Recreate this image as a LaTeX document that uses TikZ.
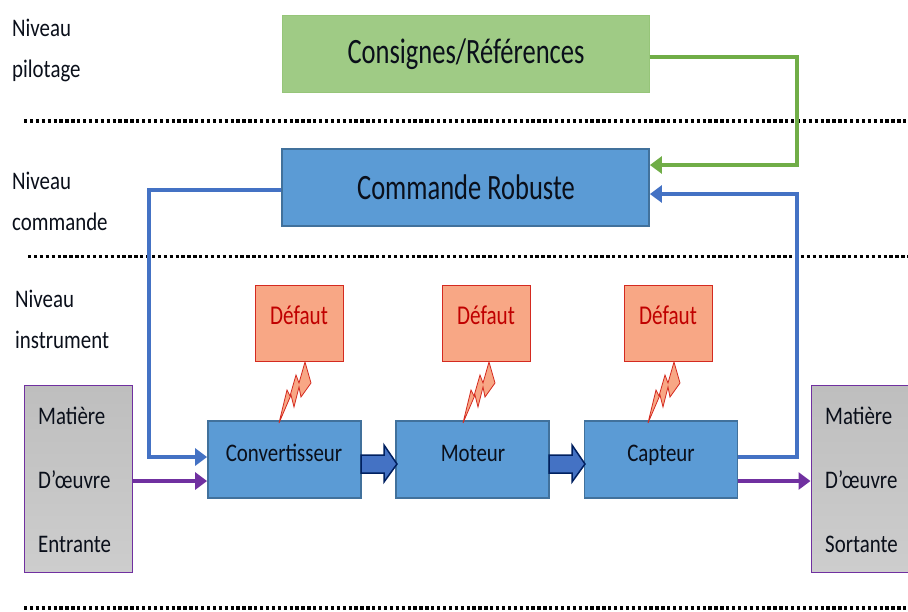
\documentclass[tikz,border=0pt]{standalone}
\usepackage{fontspec}
\setmainfont{Carlito}
\usetikzlibrary{arrows.meta,calc}
\definecolor{cblue}{HTML}{5B9BD5}
\definecolor{cblueb}{HTML}{41719C}
\definecolor{cgreen}{HTML}{9FCB85}
\definecolor{cgreenb}{HTML}{70AD47}
\definecolor{cred}{HTML}{F8A785}
\definecolor{credb}{HTML}{D42A20}
\definecolor{credt}{HTML}{C00000}
\definecolor{cpur}{HTML}{7030A0}
\definecolor{larrow}{HTML}{4472C4}
\definecolor{navyb}{HTML}{002060}
\definecolor{gtop}{HTML}{BEBEBE}
\definecolor{gbot}{HTML}{CDCDCD}
\definecolor{ink}{HTML}{0A0F1A}
\tikzset{
  box/.style={draw=cblueb,line width=1.8pt,fill=cblue,minimum width=153pt,minimum height=77pt,inner sep=0pt},
  topbox/.style={minimum width=367pt,minimum height=77pt,inner sep=0pt},
  faultbox/.style={draw=credb,line width=1pt,fill=cred,minimum width=88pt,minimum height=76pt,inner sep=0pt},
  stockbox/.style={draw=cpur,line width=1pt,top color=gtop,bottom color=gbot,minimum height=187pt,minimum width=108pt,inner sep=0pt},
  levellabel/.style={anchor=base west,inner sep=0pt,font=\fontsize{22}{22}\selectfont,xscale=.95,yscale=1.15,text=ink},
  stocktext/.style={anchor=base west,inner sep=0pt,font=\fontsize{22}{22}\selectfont,xscale=.95,yscale=1.15,text=ink},
  defaulttext/.style={anchor=base,inner sep=0pt,font=\fontsize{23}{23}\selectfont,text=credt,xscale=.92,yscale=1.18},
  blocktext/.style={anchor=base,inner sep=0pt,font=\fontsize{22}{22}\selectfont,xscale=.95,yscale=1.15,text=ink},
  titletext/.style={font=\fontsize{31}{31}\selectfont,xscale=.855,yscale=1.15,text=ink},
  sep/.style={line width=3.4pt,dash pattern=on 3.3pt off 2.6pt,black},
  link/.style={line width=4pt,line join=miter,-{Triangle[length=12pt,width=17pt]}},
  bolt/.style={draw=credb,line width=.8pt,fill=cred,line join=miter},
  blockarrow/.style={draw=navyb,line width=1.5pt,fill=larrow},
}
\begin{document}
\begin{tikzpicture}[x=1pt,y=-1pt]
\useasboundingbox (0,0) rectangle (908,611);
% separators
\coordinate (s1a) at (24,121); \coordinate (s1b) at (908,121);
\coordinate (s2a) at (28,256.5); \coordinate (s2b) at (908,256.5);
\coordinate (s3a) at (24,608); \coordinate (s3b) at (908,608);
\draw[sep] (s1a) -- (s1b);
\draw[sep] (s2a) -- (s2b);
\draw[sep] (s3a) -- (s3b);
% level labels
\node[levellabel] (l1a) at (12,36) {Niveau};
\node[levellabel] (l1b) at (12,77) {pilotage};
\node[levellabel] (l2a) at (12,189) {Niveau};
\node[levellabel] (l2b) at (12,230) {commande};
\node[levellabel] (l3a) at (15,307) {Niveau};
\node[levellabel] (l3b) at (15,348) {instrument};
% main boxes
\node[topbox,draw=cgreen!80!cgreenb,line width=1pt,fill=cgreen] (ref) at (465.5,54) {};
\node[titletext] (reft) at (466,54) {Consignes/Références};
\node[topbox,draw=cblueb,line width=1.8pt,fill=cblue] (cmd) at (465.5,187.5) {};
\node[titletext] (cmdt) at (466,187.5) {Commande Robuste};
\node[box] (conv) at (284.5,459.5) {};
\node[box] (mot) at (472.5,459.5) {};
\node[box] (cap) at (661,459.5) {};
\node[blocktext] (convt) at (284,461) {Convertisseur};
\node[blocktext] (mott) at (473,461) {Moteur};
\node[blocktext] (capt) at (661,461) {Capteur};
% faults
\foreach \n/\x/\bx in {a/299/0,b/486/184,c/668/369}{
  \draw[bolt,shift={(\bx,0)}] (305,362) -- (311,383) -- (301,397) -- (299,387) -- (294,407) -- (291,395) -- (279,423) -- (287,390) -- (290,396) -- (296,375) -- (299,383) -- cycle;
  \node[faultbox] (f\n) at (\x,323) {};
  \node[defaulttext] (ft\n) at (\x,324) {Défaut};
}
% stock boxes
\node[stockbox] (in) at (78,478.5) {};
\node[stockbox] (out) at (865,478.5) {};
\foreach \x/\nm/\last in {38/i/Entrante,825/o/Sortante}{
  \node[stocktext] (\nm1) at (\x,424) {Matière};
  \node[stocktext] (\nm2) at (\x,488) {D’œuvre};
  \node[stocktext] (\nm3) at (\x,552) {\last};
}
% block arrows between boxes
\foreach \x in {361,549}{
  \draw[blockarrow] (\x,455) -- ++(23,0) -- ++(0,-10) -- ++(13,19) -- ++(-13,18) -- ++(0,-9) -- ++(-23,0) -- cycle;
}
% connectors
\coordinate (g1) at (797,57);
\coordinate (g2) at (797,165);
\draw[link,cgreenb] (ref.east |- g1) -- (g1) -- (g2) -- (cmd.east |- g2);
\coordinate (b1) at (797,457);
\coordinate (b2) at (797,194);
\draw[link,larrow] (cap.east |- b1) -- (b1) -- (b2) -- (cmd.east |- b2);
\coordinate (c1) at (149,190);
\coordinate (c2) at (149,457);
\draw[link,larrow] (cmd.west |- c1) -- (c1) -- (c2) -- (conv.west |- c2);
\coordinate (p1) at (132,481);
\draw[link,cpur] (in.east |- p1) -- (conv.west |- p1);
\draw[link,cpur] (cap.east |- p1) -- (out.west |- p1);
\end{tikzpicture}
\end{document}
